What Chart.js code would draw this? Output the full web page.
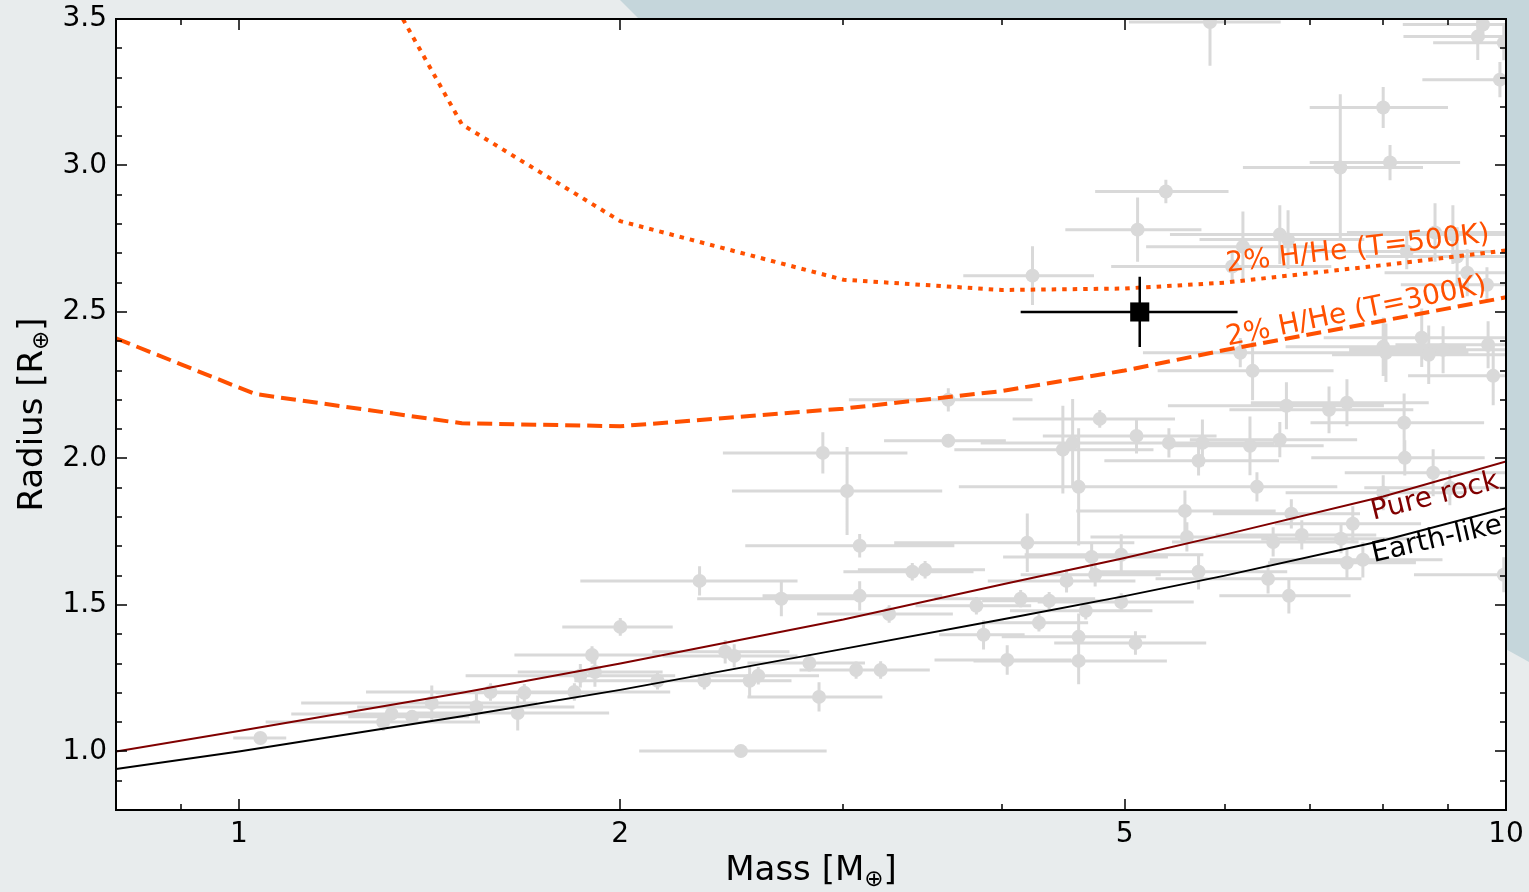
<!DOCTYPE html>
<html>
<head>
<meta charset="utf-8">
<title>Mass-radius diagram</title>
<script src="https://cdn.jsdelivr.net/npm/chart.js@4.4.1/dist/chart.umd.min.js"></script>
<style>
    html, body { margin: 0; padding: 0; width: 1529px; height: 892px; overflow: hidden; background: #e8eced; }
    #wedge {
        position: absolute; left: 0; top: 0; width: 1529px; height: 892px;
        background: #c5d6db;
        clip-path: polygon(620px 0, 1529px 0, 1529px 662px, 980px 360px);
    }
    #wrap { position: absolute; left: 0; top: 0; }
</style>
</head>
<body>
<div id="wedge"></div>
<div id="wrap"><canvas id="mrChart" width="1529" height="892"></canvas></div>
<script>
// Known small planets (grey), mass in Earth masses, radius in Earth radii
const planetMass = [
    1.04, 1.30, 1.32, 1.37, 1.42, 1.54, 1.58, 1.66, 1.68, 1.84,
    1.86, 1.90, 1.91, 2.00, 2.14, 2.31, 2.33, 2.42, 2.46, 2.49,
    2.53, 2.57, 2.68, 2.82, 2.87, 2.89, 3.02, 3.07, 3.21, 3.09,
    3.09, 3.26, 3.40, 3.48, 3.63, 3.63, 3.82, 3.87, 4.04, 4.14,
    4.19, 4.23, 4.28, 4.36, 4.47, 4.55, 4.60, 4.50, 4.60, 4.60,
    4.66, 4.71, 4.74, 4.78, 4.97, 4.97, 5.10, 5.11, 5.12, 5.39,
    5.42, 5.58, 5.60, 5.72, 5.72, 5.76, 5.84, 6.08, 6.17, 6.20,
    6.28, 6.31, 6.36, 6.49, 6.55, 6.63, 6.63, 6.71, 6.73, 6.74,
    6.77, 6.90, 7.25, 7.40, 7.41, 7.49, 7.49, 7.57, 7.71, 8.00,
    8.00, 8.00, 8.04, 8.10, 8.31, 8.32, 8.35, 8.58, 8.69, 8.76,
    8.79, 8.92, 9.08, 9.15, 9.32, 9.50, 9.59, 9.66, 9.68, 9.77,
    9.89, 9.96, 9.96, 9.03
];
const planetRadius = [
    1.046, 1.100, 1.128, 1.118, 1.165, 1.152, 1.203, 1.131, 1.200, 1.203,
    1.258, 1.329, 1.271, 1.425, 1.241, 1.582, 1.241, 1.340, 1.326, 1.001,
    1.241, 1.258, 1.521, 1.302, 1.186, 2.019, 1.889, 1.278, 1.278, 1.702,
    1.531, 1.469, 1.613, 1.620, 2.200, 2.060, 1.497, 1.398, 1.312, 1.521,
    1.712, 2.624, 1.439, 1.514, 2.030, 2.053, 1.903, 1.582, 1.391, 1.309,
    1.480, 1.664, 1.603, 2.135, 1.671, 1.510, 1.370, 2.077, 2.781, 2.911,
    2.053, 1.821, 1.732, 1.613, 1.992, 2.053, 3.490, 2.655, 2.361, 2.723,
    2.043, 2.299, 1.903, 1.589, 1.715, 2.064, 2.764, 2.180, 2.747, 1.531,
    1.811, 1.739, 2.166, 2.993, 1.726, 2.190, 1.644, 1.777, 1.654, 3.198,
    2.381, 1.883, 2.361, 3.010, 2.122, 2.002, 2.706, 2.412, 2.354, 1.951,
    2.771, 2.371, 2.764, 2.689, 2.634, 3.440, 3.481, 2.593, 2.388, 2.282,
    3.293, 3.419, 1.603, 1.900
];
const planetMassErr = [
    0.05, 0.25, 0.22, 0.15, 0.30, 0.30, 0.32, 0.30, 0.25, 0.35,
    0.35, 0.25, 0.25, 0.20, 0.30, 0.45, 0.30, 0.30, 0.30, 0.42,
    0.20, 0.30, 0.38, 0.30, 0.35, 0.48, 0.57, 0.30, 0.30, 0.58,
    0.50, 0.40, 0.40, 0.40, 0.60, 0.40, 0.40, 0.30, 0.50, 0.60,
    0.90, 0.50, 0.40, 0.50, 0.80, 0.70, 0.90, 0.60, 0.60, 0.80,
    0.60, 0.70, 0.60, 0.70, 0.80, 0.70, 0.70, 0.80, 0.63, 0.65,
    1.00, 1.00, 0.90, 1.00, 0.90, 0.80, 0.80, 1.20, 1.00, 1.00,
    0.90, 1.00, 1.00, 1.20, 1.10, 1.00, 1.20, 1.30, 1.00, 0.80,
    0.90, 1.00, 1.20, 1.20, 1.00, 1.20, 1.00, 1.00, 1.20, 1.00,
    1.30, 1.30, 1.30, 1.10, 1.30, 1.30, 1.40, 1.40, 1.40, 1.30,
    1.30, 1.40, 1.30, 1.40, 1.30, 1.20, 1.30, 1.40, 1.50, 1.40,
    1.30, 1.20, 1.50, 1.30
];
const planetRadiusErr = [
    0.01, 0.03, 0.02, 0.02, 0.06, 0.05, 0.03, 0.06, 0.03, 0.03,
    0.04, 0.03, 0.05, 0.03, 0.03, 0.05, 0.03, 0.04, 0.04, 0.01,
    0.05, 0.03, 0.06, 0.03, 0.05, 0.07, 0.15, 0.03, 0.03, 0.04,
    0.05, 0.03, 0.03, 0.03, 0.04, 0.02, 0.03, 0.05, 0.05, 0.03,
    0.10, 0.10, 0.03, 0.03, 0.15, 0.15, 0.20, 0.04, 0.08, 0.08,
    0.03, 0.05, 0.04, 0.03, 0.07, 0.03, 0.04, 0.06, 0.11, 0.04,
    0.05, 0.07, 0.05, 0.06, 0.05, 0.08, 0.15, 0.05, 0.05, 0.12,
    0.10, 0.10, 0.05, 0.05, 0.05, 0.06, 0.10, 0.08, 0.10, 0.06,
    0.05, 0.05, 0.08, 0.25, 0.05, 0.08, 0.05, 0.06, 0.06, 0.07,
    0.10, 0.06, 0.10, 0.06, 0.10, 0.06, 0.06, 0.10, 0.10, 0.08,
    0.10, 0.08, 0.10, 0.10, 0.08, 0.08, 0.05, 0.06, 0.08, 0.10,
    0.06, 0.06, 0.06, 0.06
];

// The target planet (black square)
const targetMass = [5.14];
const targetRadius = [2.50];
const targetMassErr = [1.0];
const targetRadiusErr = [0.12];

// Composition models
const rockMass = [0.8, 1, 1.5, 2, 3, 4, 5, 6, 8, 10];
const rockRadius = [1.00, 1.07, 1.20, 1.30, 1.45, 1.57, 1.66, 1.74, 1.87, 1.99];
const earthMass = [0.8, 1, 1.5, 2, 3, 4, 5, 6, 8, 10];
const earthRadius = [0.94, 1.00, 1.12, 1.21, 1.35, 1.45, 1.53, 1.60, 1.72, 1.83];
const hhe300Mass = [0.8, 1.03, 1.5, 2, 3, 4, 5, 6, 8, 10];
const hhe300Radius = [2.41, 2.22, 2.12, 2.11, 2.17, 2.23, 2.30, 2.37, 2.47, 2.55];
const hhe500Mass = [1, 1.5, 2, 3, 4, 5, 6, 8, 10];
const hhe500Radius = [4.50, 3.14, 2.81, 2.61, 2.575, 2.58, 2.60, 2.66, 2.71];

// Axes
const xMajorTicks = [1, 2, 5, 10];
const xMinorTicks = [0.9, 3, 4, 6, 7, 8, 9];
const yMajorTicks = [1.0, 1.5, 2.0, 2.5, 3.0, 3.5];
const yMinorTicks = [0.8, 0.9, 1.1, 1.2, 1.3, 1.4, 1.6, 1.7, 1.8, 1.9, 2.1, 2.2, 2.3, 2.4, 2.6, 2.7, 2.8, 2.9, 3.1, 3.2, 3.3, 3.4];

// Curve labels: text, mass, radius, angle (deg), colour
const curveLabels = [
    { text: '2% H/He (T=500K)', x: 7.64, y: 2.713, angle: -6.5, color: '#ff5000' },
    { text: '2% H/He (T=300K)', x: 7.62, y: 2.50, angle: -11.5, color: '#ff5000' },
    { text: 'Pure rock', x: 8.79, y: 1.869, angle: -14, color: '#800000' },
    { text: 'Earth-like', x: 8.82, y: 1.722, angle: -13, color: '#000000' }
];

const FONT = "'DejaVu Sans', sans-serif";

function toPoints(xs, ys) {
    return xs.map((v, i) => ({ x: v, y: ys[i] }));
}

/**
 * Error bars, drawn just before the points of their dataset
 */
const errorBarPlugin = {
    id: 'errorBars',
    beforeDatasetDraw(chart, args) {
        const ds = chart.data.datasets[args.index];
        if (!ds.xErr) return;
        const { ctx, chartArea: a, scales: { x, y } } = chart;
        ctx.save();
        ctx.beginPath();
        ctx.rect(a.left, a.top, a.width, a.height);
        ctx.clip();
        ctx.strokeStyle = ds.errColor;
        ctx.lineWidth = ds.errWidth;
        ctx.beginPath();
        ds.data.forEach((p, i) => {
            const px = x.getPixelForValue(p.x);
            const py = y.getPixelForValue(p.y);
            ctx.moveTo(x.getPixelForValue(Math.max(p.x - ds.xErr[i], 0.01)), py);
            ctx.lineTo(x.getPixelForValue(p.x + ds.xErr[i]), py);
            ctx.moveTo(px, y.getPixelForValue(p.y - ds.yErr[i]));
            ctx.lineTo(px, y.getPixelForValue(p.y + ds.yErr[i]));
        });
        ctx.stroke();
        ctx.restore();
    }
};

/**
 * White plot background, inward ticks on all sides, frame, labels and titles
 */
const decorPlugin = {
    id: 'decor',
    beforeDraw(chart) {
        const { ctx, chartArea: a } = chart;
        ctx.save();
        ctx.fillStyle = '#ffffff';
        ctx.fillRect(a.left, a.top, a.width, a.height);
        ctx.restore();
    },
    afterDatasetsDraw(chart) {
        const { ctx, scales: { x, y } } = chart;
        ctx.save();
        ctx.font = `28px ${FONT}`;
        ctx.textAlign = 'center';
        ctx.textBaseline = 'middle';
        curveLabels.forEach(l => {
            ctx.save();
            ctx.translate(x.getPixelForValue(l.x), y.getPixelForValue(l.y));
            ctx.rotate(l.angle * Math.PI / 180);
            ctx.fillStyle = l.color;
            ctx.fillText(l.text, 0, 0);
            ctx.restore();
        });
        ctx.restore();
    },
    afterDraw(chart) {
        const { ctx, chartArea: a, scales: { x, y } } = chart;
        ctx.save();
        ctx.strokeStyle = '#000';
        ctx.lineWidth = 1.5;
        ctx.beginPath();
        const xTick = (v, len) => {
            const px = Math.round(x.getPixelForValue(v));
            ctx.moveTo(px, a.bottom); ctx.lineTo(px, a.bottom - len);
            ctx.moveTo(px, a.top); ctx.lineTo(px, a.top + len);
        };
        const yTick = (v, len) => {
            const py = Math.round(y.getPixelForValue(v));
            ctx.moveTo(a.left, py); ctx.lineTo(a.left + len, py);
            ctx.moveTo(a.right, py); ctx.lineTo(a.right - len, py);
        };
        xMajorTicks.forEach(v => xTick(v, 11));
        xMinorTicks.forEach(v => xTick(v, 6));
        yMajorTicks.forEach(v => yTick(v, 11));
        yMinorTicks.forEach(v => yTick(v, 6));
        ctx.stroke();
        ctx.lineWidth = 2;
        ctx.strokeRect(a.left, a.top, a.width, a.height);

        // axis titles with subscript circled-plus
        ctx.fillStyle = '#000';
        ctx.textBaseline = 'alphabetic';
        const drawTitle = (pre, post, cx, cy, rot) => {
            ctx.save();
            ctx.translate(cx, cy);
            ctx.rotate(rot);
            ctx.font = `34px ${FONT}`;
            const w1 = ctx.measureText(pre).width;
            const w3 = ctx.measureText(post).width;
            ctx.font = `23px ${FONT}`;
            const w2 = ctx.measureText('\u2295').width;
            let cur = -(w1 + w2 + w3) / 2;
            ctx.textAlign = 'left';
            ctx.font = `34px ${FONT}`;
            ctx.fillText(pre, cur, 0); cur += w1;
            ctx.font = `23px ${FONT}`;
            ctx.fillText('\u2295', cur, 6); cur += w2;
            ctx.font = `34px ${FONT}`;
            ctx.fillText(post, cur, 0);
            ctx.restore();
        };
        drawTitle('Mass [M', ']', (a.left + a.right) / 2, 880, 0);
        drawTitle('Radius [R', ']', 42, (a.top + a.bottom) / 2, -Math.PI / 2);
        ctx.restore();
    }
};

const lineDefaults = { showLine: true, pointRadius: 0, fill: false, tension: 0, borderCapStyle: 'butt', order: 5 };

new Chart(document.getElementById('mrChart'), {
    type: 'scatter',
    data: {
        datasets: [
            {
                label: 'Known planets',
                data: toPoints(planetMass, planetRadius),
                backgroundColor: '#d9d9d9',
                borderWidth: 0,
                pointRadius: 7,
                xErr: planetMassErr,
                yErr: planetRadiusErr,
                errColor: '#d9d9d9',
                errWidth: 3,
                order: 10
            },
            Object.assign({ label: 'Pure rock', data: toPoints(rockMass, rockRadius), borderColor: '#800000', borderWidth: 2 }, lineDefaults),
            Object.assign({ label: 'Earth-like', data: toPoints(earthMass, earthRadius), borderColor: '#000000', borderWidth: 2 }, lineDefaults),
            Object.assign({ label: '2% H/He (T=300K)', data: toPoints(hhe300Mass, hhe300Radius), borderColor: '#ff5000', borderWidth: 4, borderDash: [15, 7] }, lineDefaults),
            Object.assign({ label: '2% H/He (T=500K)', data: toPoints(hhe500Mass, hhe500Radius), borderColor: '#ff5000', borderWidth: 4, borderDash: [4.5, 6] }, lineDefaults),
            {
                label: 'Target',
                data: toPoints(targetMass, targetRadius),
                pointStyle: 'rect',
                pointRadius: 13.5,
                backgroundColor: '#000',
                borderWidth: 0,
                xErr: targetMassErr,
                yErr: targetRadiusErr,
                errColor: '#000',
                errWidth: 2.5,
                order: 0
            }
        ]
    },
    options: {
        responsive: false,
        animation: false,
        layout: { padding: { top: 19, right: 23, left: 0, bottom: 0 } },
        plugins: { legend: { display: false }, tooltip: { enabled: false } },
        scales: {
            x: {
                type: 'logarithmic',
                min: 0.8,
                max: 10,
                grid: { display: false, drawTicks: false },
                border: { display: false },
                afterBuildTicks: s => { s.ticks = xMajorTicks.map(v => ({ value: v })); },
                afterFit: s => { s.height = 82; s.paddingLeft = 0; s.paddingRight = 0; },
                ticks: {
                    autoSkip: false,
                    maxRotation: 0,
                    padding: 8,
                    color: '#000',
                    font: { family: FONT, size: 28 },
                    callback: v => String(v)
                }
            },
            y: {
                min: 0.8,
                max: 3.5,
                grid: { display: false, drawTicks: false },
                border: { display: false },
                afterBuildTicks: s => { s.ticks = yMajorTicks.map(v => ({ value: v })); },
                afterFit: s => { s.width = 116; s.paddingTop = 0; s.paddingBottom = 0; },
                ticks: {
                    autoSkip: false,
                    padding: 9,
                    color: '#000',
                    font: { family: FONT, size: 28 },
                    callback: v => Number(v).toFixed(1)
                }
            }
        }
    },
    plugins: [errorBarPlugin, decorPlugin]
});
</script>
</body>
</html>
